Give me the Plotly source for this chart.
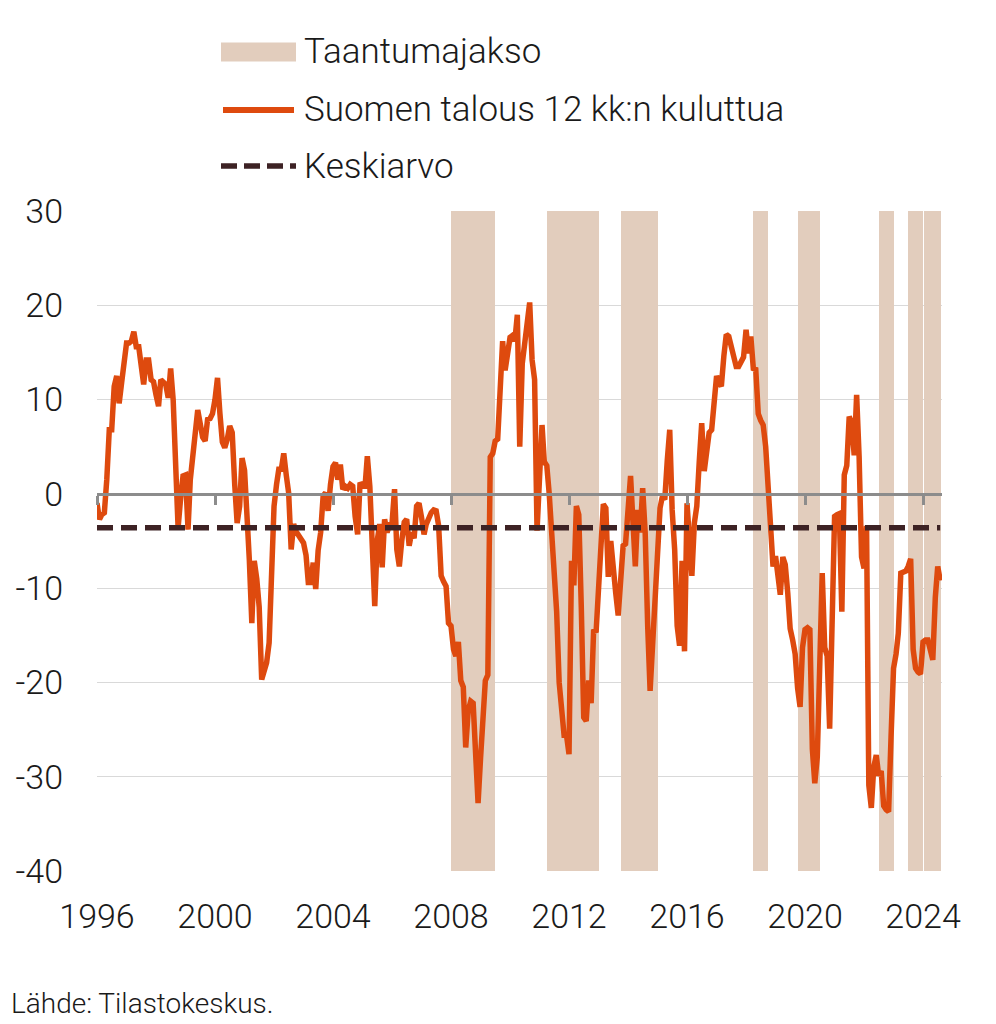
import pandas as pd
import plotly.graph_objects as go

# ---------------- data ----------------
start_month = "1996-01-01"

values = [
    # 1996
    -1.0, -2.7, -2.2, -2.0, 1.5, 6.8, 6.8, 11.4, 12.5, 9.6, 11.8, 13.5,
    # 1997
    16.0, 16.0, 16.2, 17.2, 15.6, 15.6, 13.5, 11.6, 14.2, 14.2, 12.1, 11.9,
    # 1998
    10.5, 9.3, 12.1, 11.8, 11.6, 10.2, 13.3, 10.0, 2.0, -3.6, -0.5, 1.9,
    # 1999
    2.0, -3.8, 1.5, 4.5, 6.8, 8.9, 7.5, 6.0, 5.6, 7.9, 8.0, 8.5,
    # 2000
    10.0, 12.3, 8.6, 5.5, 4.9, 5.8, 7.2, 6.5, 1.0, -3.1, -1.3, 3.8,
    # 2001
    2.5, -2.0, -7.0, -13.7, -7.1, -9.0, -12.0, -19.7, -18.8, -17.9, -15.8, -8.0,
    # 2002
    -1.3, 1.0, 2.6, 2.6, 4.3, 2.0, 0.1, -5.9, -3.2, -4.0, -4.5, -5.0,
    # 2003
    -5.2, -6.5, -9.4, -9.4, -7.3, -10.1, -6.0, -4.1, -0.2, 0.1, -1.8, 1.0,
    # 2004
    2.9, 3.3, 1.5, 3.1, 0.5, 0.8, 0.6, 1.0, 0.8, -2.4, -4.3, 1.2,
    # 2005
    0.8, 0.8, 4.0, 0.8, -4.5, -11.9, -5.0, -3.2, -7.8, -2.7, -4.1, -3.2,
    # 2006
    -3.1, 0.5, -5.9, -7.7, -5.0, -3.0, -2.7, -5.5, -4.1, -4.7, -1.3, -1.0,
    # 2007
    -2.5, -4.3, -3.2, -2.5, -2.0, -1.7, -1.8, -3.4, -8.7, -9.3, -9.8, -13.7,
    # 2008
    -14.0, -16.5, -17.2, -15.7, -19.8, -20.5, -26.9, -23.0, -22.0, -22.2, -26.7, -32.8,
    # 2009
    -28.0, -23.3, -19.8, -19.2, 3.9, 4.3, 5.6, 5.8, 12.0, 16.2, 13.1, 15.0,
    # 2010
    16.6, 16.8, 16.2, 19.0, 5.0, 13.8, 16.0, 18.1, 20.3, 14.2, 12.1, -3.9,
    # 2011
    3.4, 7.3, 3.4, 3.0, 0.0, -4.7, -8.5, -12.5, -20.0, -23.7, -25.6, -25.6,
    # 2012
    -27.6, -7.1, -9.7, -1.3, -2.2, -12.0, -23.7, -24.1, -19.8, -22.2, -14.4, -14.7,
    # 2013
    -10.0, -3.5, -1.1, -1.5, -8.8, -5.0, -8.6, -10.5, -12.9, -9.0, -5.5, -5.3,
    # 2014
    -1.0, 1.9, -2.7, -7.7, -1.7, -4.1, 0.6, -4.1, -14.0, -20.9, -16.0, -12.0,
    # 2015
    -7.7, -1.5, -0.3, -0.6, 3.5, 6.8, -1.7, -5.9, -14.0, -16.1, -7.1, -16.7,
    # 2016
    -1.0, -5.0, -8.7, -3.1, -1.3, 3.5, 7.5, 2.4, 4.2, 6.5, 6.8, 9.5,
    # 2017
    12.5, 11.8, 11.4, 14.6, 16.9, 16.7, 15.5, 14.6, 13.5, 13.5, 14.2, 14.5,
    # 2018
    17.4, 14.9, 16.7, 13.3, 13.2, 8.5, 7.8, 7.3, 5.0, 1.0, -3.0, -7.7,
    # 2019
    -6.6, -8.5, -10.7, -6.7, -7.5, -10.5, -14.3, -15.5, -17.0, -20.6, -22.6, -16.3,
    # 2020
    -14.4, -14.2, -14.4, -27.1, -30.7, -27.9, -16.3, -8.4, -16.3, -17.2, -24.9, -14.2,
    # 2021
    -2.4, -2.2, -2.1, -12.5, 2.0, 3.0, 8.2, 7.5, 4.1, 10.5, 3.9, -6.7,
    # 2022
    -7.9, -3.4, -30.9, -33.3, -29.0, -27.7, -29.9, -29.4, -33.1, -33.5, -33.7, -25.8,
    # 2023
    -18.5, -17.0, -14.8, -8.4, -8.3, -8.2, -7.7, -6.9, -16.5, -18.5, -18.9, -19.1,
    # 2024
    -15.7, -15.5, -15.5, -16.5, -17.6, -11.0, -7.7, -9.2,
]

mean_value = -3.6

recession_starts = ["2008-01-01", "2011-04-01", "2013-10-01", "2018-04-01",
                    "2019-10-01", "2022-07-01", "2023-07-01", "2024-01-08"]
recession_ends = ["2009-07-01", "2013-01-01", "2015-01-01", "2018-10-01",
                  "2020-07-01", "2023-01-01", "2023-12-26", "2024-08-05"]

x_tick_dates = ["1996-01-01", "2000-01-01", "2004-01-01", "2008-01-01",
                "2012-01-01", "2016-01-01", "2020-01-01", "2024-01-01"]
x_tick_text = ["1996", "2000", "2004", "2008", "2012", "2016", "2020", "2024"]
y_tick_vals = [-40, -30, -20, -10, 0, 10, 20, 30]
y_tick_text = ["-40", "-30", "-20", "-10", "0", "10", "20", "30"]

x_range = ["1996-01-01", "2024-08-23"]
y_range = [-40, 30]

series_name = "Suomen talous 12 kk:n kuluttua"
mean_name = "Keskiarvo"
band_name = "Taantumajakso"
source_text = "Lähde: Tilastokeskus."

# ---------------- styles ----------------
ORANGE = "#DE4A0E"
BAND = "#E2CDBD"
MEAN = "#3D2224"
ZERO = "#8C8C8C"
GRID = "#D9D9D9"
TEXT = "#1A1A1A"
FONT = "Roboto"

# the page body adds an 8 px offset; lay out in page pixels minus that offset
OFF = 8
W, H = 996 - OFF, 1024 - OFF
L, T = 97 - OFF, 211 - OFF
PW, PH = 845, 660
R, B = W - L - PW, H - T - PH


def px(x):
    return (x - OFF - L) / PW


def py(y):
    return (T + PH - (y - OFF)) / PH


dates = pd.date_range(start_month, periods=len(values), freq="MS")
rs = pd.to_datetime(recession_starts)
re_ = pd.to_datetime(recession_ends)
band_mid = rs + (re_ - rs) / 2
band_width_ms = [(e - s).total_seconds() * 1000 for s, e in zip(rs, re_)]

fig = go.Figure()

fig.add_trace(go.Bar(
    x=band_mid, y=[y_range[1] - y_range[0]] * len(rs), base=y_range[0],
    width=band_width_ms, marker=dict(color=BAND, line=dict(width=0)),
    name=band_name, showlegend=False, hoverinfo="skip",
))

fig.add_trace(go.Scatter(
    x=dates, y=values, mode="lines", name=series_name,
    line=dict(color=ORANGE, width=5.5), showlegend=False,
))

fig.add_trace(go.Scatter(
    x=[dates[0], dates[-1]], y=[mean_value, mean_value], mode="lines",
    name=mean_name, line=dict(color=MEAN, width=5.5, dash="16px,8px"),
    showlegend=False,
))

# helper trace so that the zero-line axis is drawn
fig.add_trace(go.Scatter(
    x=[dates[0]], y=[0], xaxis="x2", mode="markers",
    marker=dict(opacity=0), showlegend=False, hoverinfo="skip",
))

tick_font = dict(family=FONT, size=34, color=TEXT, weight=300)

fig.update_layout(
    width=W, height=H,
    margin=dict(l=L, r=R, t=T, b=B, autoexpand=False),
    paper_bgcolor="white", plot_bgcolor="white",
    font=dict(family=FONT, color=TEXT, size=32, weight=300),
    bargap=0,
    showlegend=False,
    xaxis=dict(
        type="date", range=x_range, tickvals=x_tick_dates, ticktext=x_tick_text,
        showgrid=False, zeroline=False, showline=False, ticks="",
        tickfont=tick_font, ticklabelstandoff=22,
    ),
    xaxis2=dict(
        type="date", range=x_range, overlaying="x", anchor="free",
        position=(0 - y_range[0]) / (y_range[1] - y_range[0]),
        tickvals=x_tick_dates, showticklabels=False, showgrid=False,
        zeroline=False, showline=True, linecolor=ZERO, linewidth=2.5,
        ticks="outside", ticklen=9, tickwidth=2.5, tickcolor=ZERO,
    ),
    yaxis=dict(
        range=y_range, tickvals=y_tick_vals, ticktext=y_tick_text,
        showgrid=True, gridcolor=GRID, gridwidth=1.3, zeroline=False,
        showline=False, ticks="",
        tickfont=tick_font, ticklabelstandoff=33,
    ),
)

# ---------------- manual legend ----------------
legend_font = dict(family=FONT, size=35, color=TEXT, weight=300)
sym_x0, sym_x1, text_x = 221, 296, 302
rows = [52, 110, 166]

fig.add_shape(type="rect", xref="paper", yref="paper",
              x0=px(sym_x0), x1=px(sym_x1), y0=py(rows[0] + 9.5), y1=py(rows[0] - 9.5),
              fillcolor=BAND, line=dict(width=0))
fig.add_shape(type="line", xref="paper", yref="paper",
              x0=px(sym_x0 + 2), x1=px(sym_x1 - 2), y0=py(rows[1]), y1=py(rows[1]),
              line=dict(color=ORANGE, width=6))
fig.add_shape(type="line", xref="paper", yref="paper",
              x0=px(sym_x0), x1=px(sym_x1), y0=py(rows[2]), y1=py(rows[2]),
              line=dict(color=MEAN, width=5.5, dash="16px,7px"))

for name, yrow in zip([band_name, series_name, mean_name], rows):
    fig.add_annotation(text=name, xref="paper", yref="paper",
                       x=px(text_x), y=py(yrow), xanchor="left", yanchor="middle",
                       showarrow=False, font=legend_font)

fig.add_annotation(text=source_text, xref="paper", yref="paper",
                   x=px(9), y=py(1003), xanchor="left", yanchor="middle",
                   showarrow=False, font=dict(family=FONT, size=28, color=TEXT, weight=300))

fig.write_html("out.html")
